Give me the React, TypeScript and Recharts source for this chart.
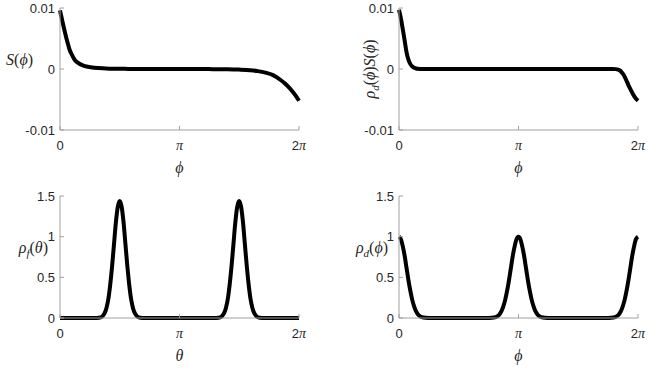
import { LineChart, Line, XAxis, YAxis, Label } from 'recharts'

const SERIF = "'Liberation Serif', 'DejaVu Serif', serif"
const SANS = "'Liberation Sans', Arial, sans-serif"
const INK = '#262626'
const BOX = '#a0a0a0'

const xTicks = [0, Math.PI, 2 * Math.PI]
const xTickLabels = ['0', 'π', '2π']
const sTicks = [-0.01, 0, 0.01]
const sTickLabels = ['-0.01', '0', '0.01']
const rhoTicks = [0, 0.5, 1, 1.5]
const rhoTickLabels = ['0', '0.5', '1', '1.5']

// S(phi), top left
const phiS = [0, 0.05, 0.1, 0.15, 0.2, 0.25, 0.3, 0.35, 0.4, 0.5, 0.6, 0.7, 0.8, 1.0, 1.3, 1.8, 2.5, 3.2, 3.9, 4.4, 4.7, 5.0, 5.2, 5.4, 5.6, 5.8, 5.9, 6.0, 6.1, 6.2, 6.2832]
const sVals = [0.0096, 0.0082, 0.0068, 0.0055, 0.0043, 0.0032, 0.0025, 0.0019, 0.0014, 0.0009, 0.0006, 0.0004, 0.0003, 0.00015, 0.00006, 0.00002, 0, 0, -0.00002, -0.00005, -0.0001, -0.0002, -0.00035, -0.0006, -0.001, -0.0018, -0.0023, -0.0029, -0.0036, -0.0044, -0.0052]

// rho_d(phi) S(phi), top right
const phiP = [0, 0.05, 0.1, 0.15, 0.2, 0.25, 0.3, 0.35, 0.4, 0.45, 0.5, 0.6, 1.5, 3.1, 4.7, 5.6, 5.7, 5.75, 5.8, 5.85, 5.9, 5.95, 6.0, 6.05, 6.1, 6.15, 6.2, 6.25, 6.2832]
const pVals = [0.0097, 0.0083, 0.0065, 0.0046, 0.0027, 0.0015, 0.0008, 0.0004, 0.0002, 0.00008, 0.00004, 0.00001, 0, 0, 0, 0, -0.00002, -0.00008, -0.0002, -0.0005, -0.0009, -0.0015, -0.0022, -0.0029, -0.0035, -0.0041, -0.0046, -0.005, -0.0052]

// rho_f(theta), bottom left
const thetaF = [0, 0.5, 0.87, 0.97, 1.07, 1.12, 1.17, 1.22, 1.27, 1.32, 1.37, 1.42, 1.47, 1.52, 1.57, 1.62, 1.67, 1.72, 1.77, 1.82, 1.87, 1.92, 1.97, 2.02, 2.07, 2.17, 2.27, 3.14, 4.01, 4.11, 4.21, 4.26, 4.31, 4.36, 4.41, 4.46, 4.51, 4.56, 4.61, 4.66, 4.71, 4.76, 4.81, 4.86, 4.91, 4.96, 5.01, 5.06, 5.11, 5.16, 5.21, 5.31, 5.41, 5.9, 6.2832]
const rhoF = [0, 0, 0, 0.001, 0.009, 0.024, 0.056, 0.12, 0.23, 0.41, 0.64, 0.91, 1.18, 1.37, 1.44, 1.37, 1.18, 0.91, 0.64, 0.41, 0.23, 0.12, 0.056, 0.024, 0.009, 0.001, 0, 0, 0, 0.001, 0.009, 0.024, 0.056, 0.12, 0.23, 0.41, 0.64, 0.91, 1.18, 1.37, 1.44, 1.37, 1.18, 0.91, 0.64, 0.41, 0.23, 0.12, 0.056, 0.024, 0.009, 0.001, 0, 0, 0]

// rho_d(phi), bottom right
const phiD = [0, 0.05, 0.1, 0.15, 0.2, 0.25, 0.3, 0.35, 0.4, 0.45, 0.5, 0.55, 0.6, 0.7, 0.8, 2.34, 2.44, 2.54, 2.59, 2.64, 2.69, 2.74, 2.79, 2.84, 2.89, 2.94, 2.99, 3.04, 3.09, 3.14, 3.19, 3.24, 3.29, 3.34, 3.39, 3.44, 3.49, 3.54, 3.59, 3.64, 3.69, 3.74, 3.84, 3.94, 5.48, 5.58, 5.68, 5.73, 5.78, 5.83, 5.88, 5.93, 5.98, 6.03, 6.08, 6.13, 6.18, 6.23, 6.2832]
const rhoD = [1.0, 0.97, 0.88, 0.76, 0.61, 0.46, 0.33, 0.22, 0.14, 0.08, 0.044, 0.023, 0.011, 0.002, 0, 0, 0.002, 0.011, 0.023, 0.044, 0.08, 0.14, 0.22, 0.33, 0.46, 0.61, 0.76, 0.88, 0.97, 1.0, 0.97, 0.88, 0.76, 0.61, 0.46, 0.33, 0.22, 0.14, 0.08, 0.044, 0.023, 0.011, 0.002, 0, 0, 0.002, 0.011, 0.023, 0.044, 0.08, 0.14, 0.22, 0.33, 0.46, 0.61, 0.76, 0.88, 0.97, 1.0]

const toRows = (xs: number[], ys: number[]) => xs.map((x, i) => ({ x, y: ys[i] }))

function XTick({ x, y, payload }: any) {
  let i = 0
  xTicks.forEach((t, k) => { if (Math.abs(t - payload.value) < 1e-6) i = k })
  const lab = xTickLabels[i]
  const pi = lab.endsWith('π')
  const num = pi ? lab.slice(0, -1) : lab
  return (
    <text x={x} y={y + 20} textAnchor="middle" fill={INK} fontSize={13} fontFamily={SANS}>
      {num && <tspan>{num}</tspan>}
      {pi && <tspan fontFamily={SERIF} fontStyle="italic" fontSize={14}>π</tspan>}
    </text>
  )
}

const it = { fontStyle: 'italic' as const }
const phi = <tspan {...it}>ϕ</tspan>

const xLabel = (sym: string) => ({ viewBox }: any) => (
  <text x={viewBox.x + viewBox.width / 2} y={viewBox.y + 43} textAnchor="middle"
    fill={INK} fontSize={16} fontFamily={SERIF} fontStyle="italic">{sym}</text>
)

const labelS = ({ viewBox }: any) => (
  <text x={viewBox.x + viewBox.width - 27} y={viewBox.y + viewBox.height / 2 - 4}
    textAnchor="end" fill={INK} fontSize={16} fontFamily={SERIF}>
    <tspan {...it}>S</tspan>({phi})
  </text>
)

const labelRhoDS = ({ viewBox }: any) => {
  const cx = viewBox.x + viewBox.width - 29
  const cy = viewBox.y + viewBox.height / 2
  return (
    <text x={cx} y={cy} transform={`rotate(-90 ${cx} ${cy})`} dy={5}
      textAnchor="middle" fill={INK} fontSize={16} fontFamily={SERIF}>
      <tspan {...it}>ρ</tspan>
      <tspan {...it} fontSize={11} dy={4}>d</tspan>
      <tspan dy={-4}>(</tspan>{phi})<tspan {...it}>S</tspan>({phi})
    </text>
  )
}

const labelRho = (sub: string, arg: string, gap: number) => ({ viewBox }: any) => (
  <text x={viewBox.x + viewBox.width - gap} y={viewBox.y + viewBox.height / 2 - 4}
    textAnchor="end" fill={INK} fontSize={16} fontFamily={SERIF}>
    <tspan {...it}>ρ</tspan>
    <tspan {...it} fontSize={11} dy={4}>{sub}</tspan>
    <tspan dy={-4}>(</tspan><tspan {...it}>{arg}</tspan>)
  </text>
)

function Panel({ left, top, height, margin, rows, yDomain, yTicks, yTickLabels, yLabel, xSym }: any) {
  const fmt = (v: number) => yTickLabels[yTicks.indexOf(v)] ?? String(v)
  return (
    <div style={{ position: 'absolute', left, top }}>
      <LineChart width={332} height={height} data={rows} margin={margin}>
        <XAxis dataKey="x" type="number" domain={[0, 2 * Math.PI]} ticks={xTicks} interval={0}
          tick={<XTick />} tickSize={-4} tickMargin={4} height={30} stroke={BOX}>
          <Label content={xLabel(xSym)} />
        </XAxis>
        <XAxis xAxisId="top" orientation="top" dataKey="x" type="number" domain={[0, 2 * Math.PI]}
          ticks={xTicks} interval={0} tick={false} tickSize={-4} height={0} stroke={BOX} />
        <YAxis type="number" domain={yDomain} ticks={yTicks} interval={0} tickFormatter={fmt}
          width={50} tickSize={-4} tickMargin={9} stroke={BOX}
          tick={{ fill: INK, fontSize: 13, fontFamily: SANS }}>
          <Label content={yLabel} />
        </YAxis>
        <YAxis yAxisId="right" orientation="right" type="number" domain={yDomain} ticks={yTicks}
          interval={0} tick={false} tickSize={-4} width={0} stroke={BOX} />
        <Line dataKey="y" type="monotone" stroke="#000" strokeWidth={4} dot={false}
          isAnimationActive={false} />
      </LineChart>
    </div>
  )
}

export default function App() {
  return (
    <div style={{ position: 'absolute', left: 0, top: 0, width: 664, height: 371, background: '#fff', overflow: 'hidden' }}>
      <Panel left={0} top={0} height={185} margin={{ top: 8, right: 33, left: 10, bottom: 25 }}
        rows={toRows(phiS, sVals)} yDomain={[-0.01, 0.01]} yTicks={sTicks} yTickLabels={sTickLabels}
        yLabel={labelS} xSym="ϕ" />
      <Panel left={332} top={0} height={185} margin={{ top: 8, right: 26, left: 17, bottom: 25 }}
        rows={toRows(phiP, pVals)} yDomain={[-0.01, 0.01]} yTicks={sTicks} yTickLabels={sTickLabels}
        yLabel={labelRhoDS} xSym="ϕ" />
      <Panel left={0} top={185} height={186} margin={{ top: 11, right: 33, left: 10, bottom: 23 }}
        rows={toRows(thetaF, rhoF)} yDomain={[0, 1.5]} yTicks={rhoTicks} yTickLabels={rhoTickLabels}
        yLabel={labelRho('f', 'θ', 12)} xSym="θ" />
      <Panel left={332} top={185} height={186} margin={{ top: 11, right: 26, left: 17, bottom: 23 }}
        rows={toRows(phiD, rhoD)} yDomain={[0, 1.5]} yTicks={rhoTicks} yTickLabels={rhoTickLabels}
        yLabel={labelRho('d', 'ϕ', 11)} xSym="ϕ" />
    </div>
  )
}
